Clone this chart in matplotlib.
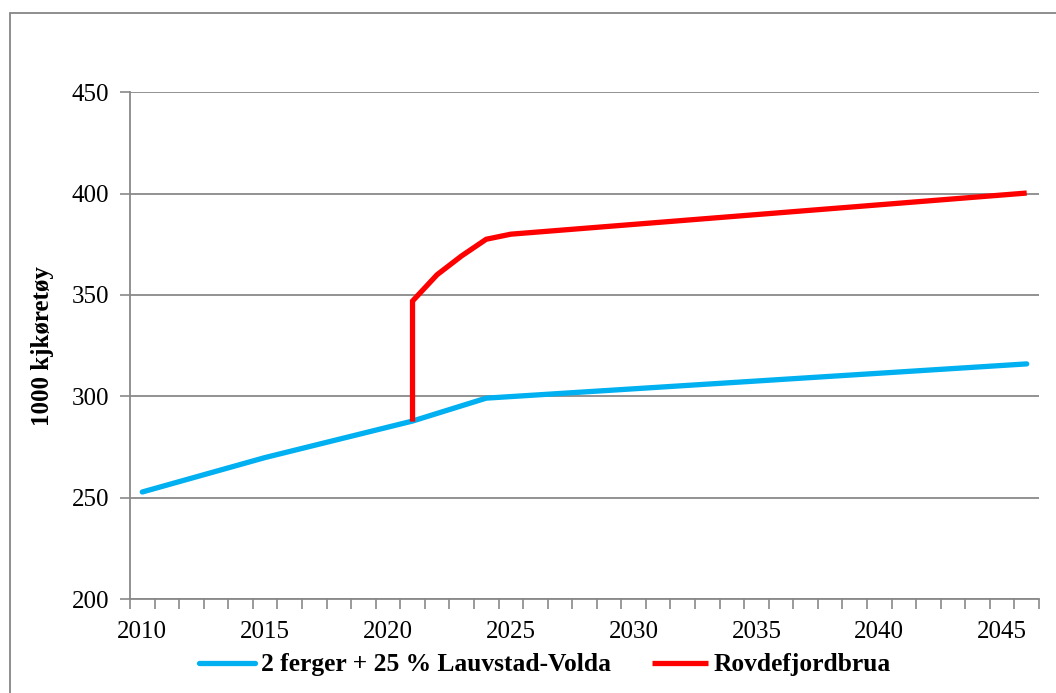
import matplotlib
matplotlib.use("Agg")
import matplotlib.pyplot as plt
from matplotlib.patches import Rectangle
from matplotlib.ticker import FixedLocator

years_blue = [2010, 2015, 2021, 2024, 2046]
blue_vals = [252.8, 269.8, 287.8, 299.1, 316.0]
years_red = [2021, 2021, 2022, 2023, 2024, 2025, 2046]
red_vals = [287.5, 347.0, 360.0, 369.3, 377.5, 380.0, 400.3]
label_years = [2010, 2015, 2020, 2025, 2030, 2035, 2040, 2045]
yticks = [200, 250, 300, 350, 400, 450]
blue_name = "2 ferger + 25 % Lauvstad-Volda"
red_name = "Rovdefjordbrua"
ylabel = "1000 kjkøretøy"

plt.rcParams['font.family'] = ['Liberation Serif', 'DejaVu Serif']
grey = '#898989'

fig = plt.figure(figsize=(10.56, 6.93), dpi=100)
ax = fig.add_axes([130/1056, 1-599/693, (1039-130)/1056, (599-92.3)/693])

ax.plot(years_blue, blue_vals, color='#00B0F0', lw=3.8, solid_capstyle='round',
        solid_joinstyle='round', label=blue_name, zorder=3)
ax.plot(years_red, red_vals, color='#FF0000', lw=3.8, solid_capstyle='butt',
        solid_joinstyle='miter', label=red_name, zorder=4)

ax.set_xlim(2009.5, 2046.5)
ax.set_ylim(200, 450)
ax.set_yticks(yticks)
ax.xaxis.set_major_locator(FixedLocator(label_years))
ax.xaxis.set_minor_locator(FixedLocator([2009.5 + k for k in range(38)]))
ax.tick_params(axis='x', which='major', length=0, labelsize=18, pad=16, colors='black')
ax.tick_params(axis='x', which='minor', length=7, width=1.2, color=grey, direction='out')
ax.tick_params(axis='y', which='major', length=7, width=1.2, color=grey, labelsize=18, pad=8)
ax.yaxis.grid(True, color=grey, lw=1.3)
ax.set_axisbelow(True)
for s in ['top', 'right']:
    ax.spines[s].set_visible(False)
for s in ['left', 'bottom']:
    ax.spines[s].set_color(grey)
    ax.spines[s].set_linewidth(1.3)

ax.set_ylabel(ylabel, fontsize=18, fontweight='bold', labelpad=13)

handles, labels = ax.get_legend_handles_labels()
leg = fig.legend(handles, labels, loc='center', bbox_to_anchor=(0.516, 1-665/693), ncol=2,
                 frameon=False, prop={'weight': 'bold', 'size': 18.4},
                 handlelength=2.2, handletextpad=0.22, columnspacing=1.6)

fig.patches.append(Rectangle((10/1056, -0.1), 1.2, 1.1 - 13/693, transform=fig.transFigure,
                             fill=False, edgecolor='#868686', lw=1.3))

fig.savefig('out.png', dpi=100)
